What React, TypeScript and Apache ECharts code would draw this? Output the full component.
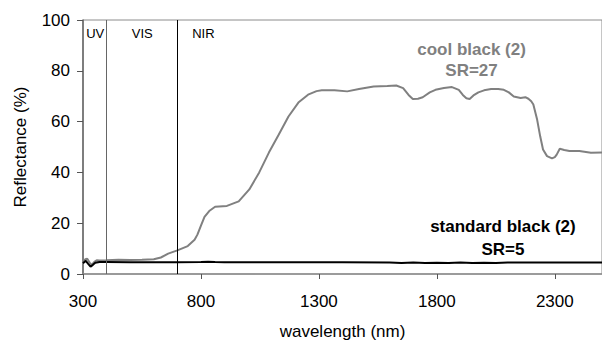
import React, { useEffect, useRef } from "react";
import * as echarts from "echarts";

const coolWavelength = [300, 310, 318, 328, 337, 348, 358, 370, 400, 450, 500, 550, 600, 630, 661, 700, 744, 773, 785, 800, 815, 835, 860, 910, 960, 1005, 1047, 1088, 1130, 1171, 1213, 1254, 1290, 1312, 1366, 1420, 1470, 1532, 1590, 1628, 1657, 1680, 1698, 1720, 1740, 1770, 1794, 1830, 1864, 1893, 1910, 1925, 1939, 1955, 1976, 2000, 2030, 2060, 2084, 2105, 2126, 2155, 2175, 2188, 2200, 2209, 2225, 2238, 2250, 2267, 2288, 2300, 2308, 2321, 2340, 2362, 2404, 2453, 2500];
const coolReflectance = [5.0, 5.8, 6.0, 4.5, 3.6, 4.8, 5.4, 5.3, 5.4, 5.6, 5.5, 5.6, 5.8, 6.5, 8.0, 9.3, 11.0, 13.5, 15.5, 19.0, 22.5, 24.8, 26.5, 26.8, 28.6, 33.3, 40.0, 47.8, 54.9, 62.0, 67.5, 70.6, 72.0, 72.3, 72.3, 71.9, 72.8, 73.8, 74.0, 74.2, 73.2, 70.5, 68.9, 69.0, 69.6, 71.5, 72.5, 73.2, 73.6, 72.5, 70.5, 69.2, 68.9, 70.3, 71.5, 72.3, 72.8, 72.8, 72.5, 71.5, 69.9, 69.3, 69.6, 69.0, 68.0, 66.7, 60.8, 54.2, 49.0, 46.4, 45.5, 46.0, 47.0, 49.3, 48.8, 48.4, 48.4, 47.7, 47.8];

const standardWavelength = [300, 312, 322, 332, 342, 352, 370, 400, 500, 600, 700, 800, 830, 860, 900, 1000, 1200, 1400, 1600, 1650, 1700, 1750, 1800, 1850, 1900, 1950, 2000, 2050, 2100, 2200, 2300, 2400, 2500];
const standardReflectance = [4.2, 5.2, 4.0, 2.9, 3.6, 4.4, 4.7, 4.7, 4.6, 4.6, 4.6, 4.7, 4.8, 4.7, 4.6, 4.6, 4.6, 4.6, 4.5, 4.3, 4.5, 4.3, 4.4, 4.3, 4.5, 4.3, 4.4, 4.3, 4.5, 4.5, 4.5, 4.5, 4.5];

const regionLines = [400, 700];
const regionLabels = [
  { name: "UV", x: 352, y: 94.5 },
  { name: "VIS", x: 551, y: 94.5 },
  { name: "NIR", x: 810, y: 94.5 },
];
const xTicks = { min: 300, max: 2500, interval: 500 };
const yTicks = { min: 0, max: 100, interval: 20 };

export default function App() {
  const ref = useRef<HTMLDivElement>(null);
  useEffect(() => {
    document.body.style.margin = "0";
    const chart = echarts.init(ref.current!, undefined, { renderer: "svg" });
    const font = "Liberation Sans, Arial, sans-serif";
    chart.setOption({
      animation: false,
      textStyle: { fontFamily: font },
      grid: {
        left: 83,
        right: -11,
        top: 20,
        bottom: 70,
        show: true,
        borderColor: "#8c8c8c",
        borderWidth: 1,
      },
      xAxis: {
        type: "value",
        min: xTicks.min,
        max: xTicks.max,
        interval: xTicks.interval,
        name: "wavelength (nm)",
        nameLocation: "middle",
        nameGap: 49,
        nameTextStyle: { fontSize: 17, color: "#000", fontFamily: font },
        axisLine: { show: true, lineStyle: { color: "#8c8c8c", width: 1.5 } },
        axisTick: { show: true, length: 5, lineStyle: { color: "#555" } },
        axisLabel: {
          fontSize: 17,
          color: "#000",
          margin: 19,
          showMaxLabel: false,
          fontFamily: font,
          formatter: (v: number) => String(v),
        },
        splitLine: { show: false },
      },
      yAxis: {
        type: "value",
        min: yTicks.min,
        max: yTicks.max,
        interval: yTicks.interval,
        name: "Reflectance (%)",
        nameLocation: "middle",
        nameGap: 54,
        nameTextStyle: { fontSize: 17, color: "#000", fontFamily: font },
        axisLine: { show: true, lineStyle: { color: "#666", width: 1.5 } },
        axisTick: { show: true, length: 6, lineStyle: { color: "#555" } },
        axisLabel: { fontSize: 17, color: "#000", margin: 13, fontFamily: font, formatter: (v: number) => String(v) },
        splitLine: { show: false },
      },
      series: [
        {
          type: "line",
          name: "standard black (2)",
          data: standardWavelength.map((w, i) => [w, standardReflectance[i]]),
          showSymbol: false,
          lineStyle: { color: "#000", width: 2 },
          z: 3,
          markLine: {
            silent: true,
            symbol: "none",
            label: { show: false },
            data: regionLines.map((v, i) => ({
              xAxis: v,
              lineStyle: { color: i === 0 ? "#666" : "#000", width: 1, type: "solid" },
            })),
          },
          markPoint: {
            symbol: "circle",
            symbolSize: 0,
            label: {
              show: true,
              formatter: "{b}",
              fontSize: 17,
              fontWeight: "bold",
              color: "#000",
              fontFamily: font,
            },
            data: [
              { name: "standard black (2)", coord: [2080, 18.8] },
              { name: "SR=5", coord: [2080, 9.8] },
            ],
          },
        },
        {
          type: "line",
          name: "cool black (2)",
          data: coolWavelength.map((w, i) => [w, coolReflectance[i]]),
          showSymbol: false,
          lineStyle: { color: "#808080", width: 2 },
          z: 2,
          markPoint: {
            symbol: "circle",
            symbolSize: 0,
            label: {
              show: true,
              formatter: "{b}",
              fontSize: 17,
              fontWeight: "bold",
              color: "#808080",
              fontFamily: font,
            },
            data: [
              { name: "cool black (2)", coord: [1947, 88.5] },
              { name: "SR=27", coord: [1947, 80] },
            ],
          },
        },
        {
          type: "scatter",
          data: [],
          markPoint: {
            symbol: "circle",
            symbolSize: 0,
            label: { show: true, formatter: "{b}", fontSize: 13, color: "#000", fontFamily: font },
            data: regionLabels.map((r) => ({ name: r.name, coord: [r.x, r.y] })),
          },
        },
      ],
    });
    return () => chart.dispose();
  }, []);
  return <div ref={ref} style={{ width: 602, height: 345 }} />;
}
